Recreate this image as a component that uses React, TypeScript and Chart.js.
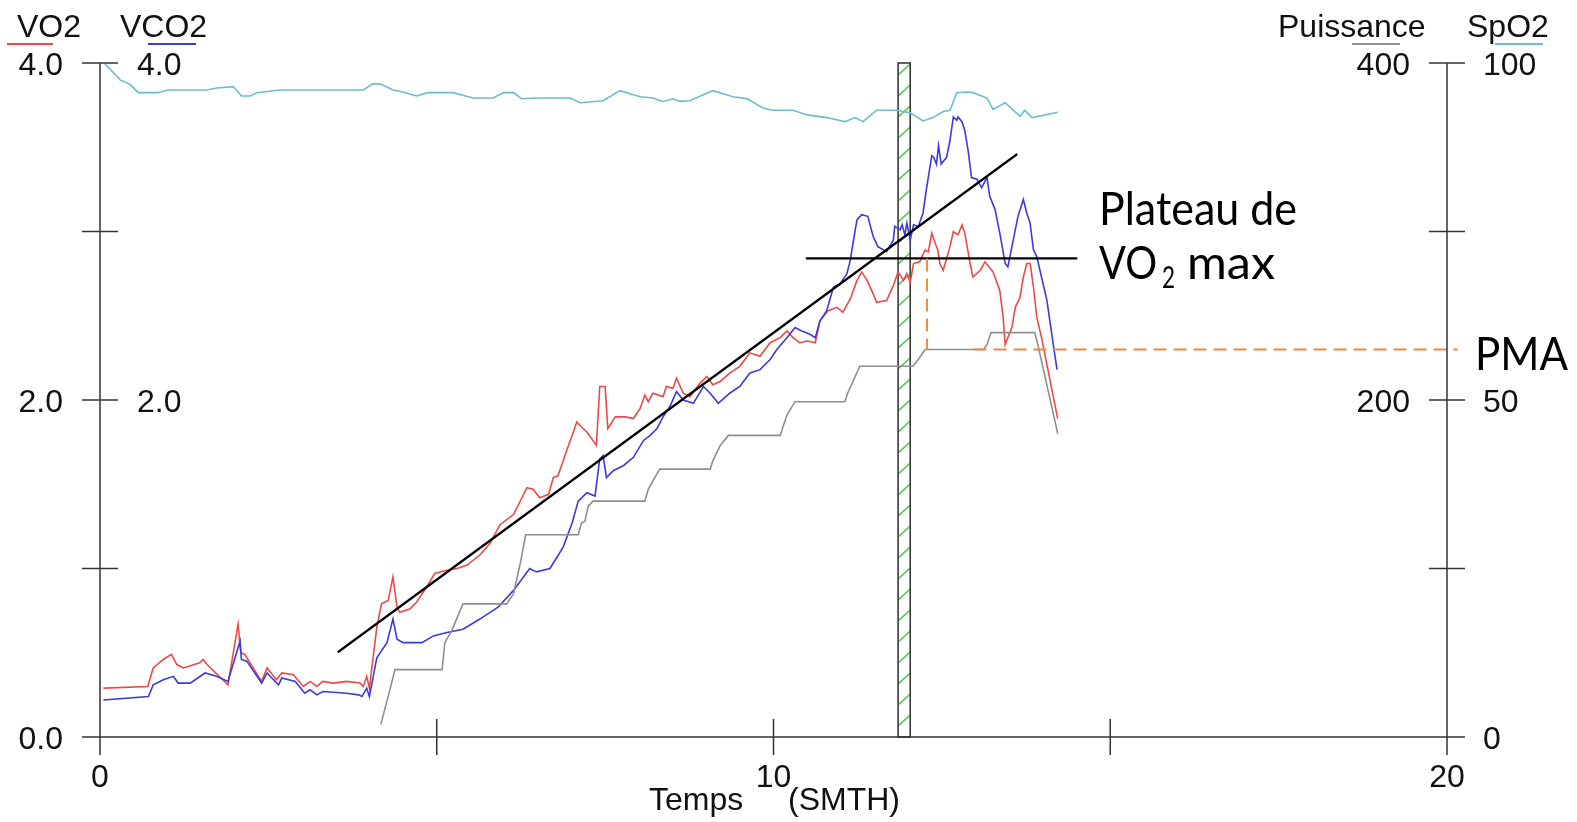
import React, { useEffect, useRef } from "react";
import { Chart, registerables } from "chart.js";

Chart.register(...registerables);

// ---- data (time in minutes) ----
const vo2: [number, number][] = [
  [0.05,0.29],[0.71,0.30],[0.79,0.41],[0.94,0.46],[1.06,0.49],[1.14,0.43],[1.24,0.41],[1.48,0.44],[1.53,0.46],[1.59,0.43],
  [1.90,0.31],[2.05,0.67],[2.09,0.50],[2.15,0.49],[2.40,0.33],[2.48,0.41],[2.62,0.34],[2.70,0.38],[2.87,0.37],[3.02,0.30],
  [3.12,0.33],[3.22,0.30],[3.31,0.33],[3.46,0.32],[3.66,0.33],[3.86,0.32],[3.91,0.30],[3.96,0.36],[4.00,0.29],[4.11,0.65],
  [4.18,0.79],[4.28,0.81],[4.35,0.95],[4.41,0.77],[4.45,0.74],[4.60,0.76],[4.70,0.80],[4.85,0.89],[4.97,0.97],[5.15,0.99],
  [5.30,1.00],[5.45,1.02],[5.64,1.08],[5.79,1.15],[5.94,1.26],[6.14,1.32],[6.34,1.48],[6.43,1.47],[6.53,1.42],[6.66,1.44],
  [6.73,1.54],[6.80,1.55],[6.93,1.70],[7.08,1.87],[7.15,1.84],[7.23,1.81],[7.37,1.73],[7.42,2.08],[7.50,2.08],[7.54,1.83],
  [7.65,1.90],[7.80,1.90],[7.92,1.89],[8.02,1.95],[8.09,2.03],[8.14,1.99],[8.21,2.04],[8.36,2.02],[8.41,2.08],[8.51,2.07],
  [8.56,2.13],[8.66,2.04],[8.76,2.02],[8.91,2.10],[9.01,2.14],[9.10,2.09],[9.21,2.11],[9.35,2.16],[9.50,2.20],[9.65,2.28],
  [9.80,2.26],[9.95,2.34],[10.10,2.37],[10.20,2.41],[10.29,2.37],[10.39,2.34],[10.50,2.35],[10.62,2.34],[10.69,2.47],[10.81,2.53],
  [10.94,2.55],[11.03,2.52],[11.14,2.60],[11.24,2.71],[11.31,2.76],[11.39,2.71],[11.48,2.63],[11.53,2.58],[11.68,2.59],[11.78,2.68],
  [11.85,2.76],[11.93,2.71],[11.98,2.75],[12.03,2.70],[12.08,2.81],[12.17,2.82],[12.25,2.89],[12.30,2.88],[12.35,2.99],[12.40,2.93],
  [12.44,2.89],[12.47,2.81],[12.52,2.77],[12.62,2.91],[12.67,3.00],[12.74,2.98],[12.80,3.04],[12.84,2.99],[12.92,2.81],[12.96,2.73],
  [13.07,2.77],[13.14,2.82],[13.20,2.79],[13.26,2.76],[13.36,2.65],[13.41,2.49],[13.44,2.33],[13.54,2.43],[13.59,2.55],[13.66,2.61],
  [13.71,2.73],[13.76,2.81],[13.81,2.81],[13.86,2.67],[13.91,2.49],[13.98,2.37],[14.22,1.89]
];

const vco2: [number, number][] = [
  [0.05,0.22],[0.72,0.24],[0.79,0.31],[0.94,0.34],[1.09,0.36],[1.16,0.32],[1.34,0.32],[1.56,0.38],[1.73,0.36],[1.90,0.33],
  [2.08,0.57],[2.10,0.46],[2.18,0.45],[2.40,0.32],[2.48,0.38],[2.65,0.31],[2.70,0.35],[2.90,0.33],[3.04,0.26],[3.12,0.28],
  [3.22,0.25],[3.31,0.27],[3.66,0.26],[3.84,0.25],[3.89,0.24],[3.96,0.29],[4.00,0.24],[4.11,0.47],[4.26,0.56],[4.35,0.70],
  [4.41,0.58],[4.50,0.56],[4.60,0.56],[4.78,0.56],[4.95,0.60],[5.15,0.62],[5.39,0.64],[5.64,0.70],[5.91,0.77],[6.14,0.87],
  [6.38,1.00],[6.48,0.98],[6.68,1.00],[6.79,1.07],[6.88,1.13],[7.01,1.27],[7.10,1.40],[7.23,1.45],[7.35,1.43],[7.42,1.65],
  [7.47,1.67],[7.52,1.54],[7.62,1.58],[7.77,1.61],[7.92,1.66],[8.07,1.76],[8.17,1.79],[8.27,1.83],[8.36,1.90],[8.46,1.96],
  [8.56,2.05],[8.66,2.00],[8.81,1.98],[8.96,2.08],[9.06,2.04],[9.18,1.98],[9.35,2.04],[9.50,2.08],[9.65,2.16],[9.80,2.18],
  [9.95,2.24],[10.05,2.30],[10.20,2.37],[10.32,2.43],[10.42,2.41],[10.54,2.39],[10.62,2.37],[10.69,2.47],[10.79,2.53],[10.89,2.67],
  [10.99,2.69],[11.09,2.75],[11.14,2.83],[11.18,2.93],[11.24,3.07],[11.31,3.10],[11.40,3.09],[11.48,2.97],[11.55,2.91],[11.68,2.88],
  [11.78,2.95],[11.80,3.03],[11.88,3.01],[11.91,3.04],[11.95,2.98],[11.98,3.05],[12.03,2.95],[12.08,3.04],[12.15,3.03],[12.22,3.11],
  [12.27,3.25],[12.35,3.45],[12.38,3.44],[12.42,3.40],[12.45,3.51],[12.49,3.40],[12.57,3.44],[12.62,3.54],[12.67,3.68],[12.72,3.66],
  [12.74,3.68],[12.80,3.65],[12.84,3.60],[12.89,3.48],[12.94,3.32],[13.02,3.31],[13.09,3.26],[13.17,3.32],[13.21,3.21],[13.29,3.13],
  [13.36,2.99],[13.44,2.81],[13.48,2.79],[13.56,2.95],[13.63,3.09],[13.71,3.19],[13.76,3.11],[13.81,3.05],[13.86,2.89],[13.91,2.85],
  [14.06,2.59],[14.15,2.34],[14.21,2.18]
];

const puissance: [number, number][] = [
  [4.17,7.5],[4.33,32],[4.38,40],[5.08,40],[5.12,56],[5.22,63],[5.39,79],[6.04,79],[6.14,85],[6.24,103],
  [6.32,120],[7.10,120],[7.15,127],[7.20,128],[7.25,137],[7.32,140],[8.09,140],[8.14,147],[8.21,152],[8.31,159],
  [9.06,159],[9.10,164],[9.21,173],[9.33,179],[10.10,179],[10.14,184],[10.20,191],[10.32,199],[11.06,199],[11.10,204],
  [11.17,210],[11.28,220],[12.07,220],[12.15,224],[12.25,230],[13.12,230],[13.17,233],[13.23,240],[13.88,240],[13.93,232],
  [14.22,180]
];

const spo2: [number, number][] = [
  [0.07,99.9],[0.30,97.5],[0.45,96.8],[0.57,95.6],[0.86,95.6],[1.01,96.0],[1.59,96.0],[1.73,96.3],[1.98,96.5],[2.10,95.1],
  [2.23,95.1],[2.33,95.6],[2.67,96.0],[3.91,96.0],[4.05,96.9],[4.16,96.9],[4.35,96.0],[4.50,95.7],[4.70,95.1],[4.87,95.6],
  [5.24,95.6],[5.54,94.8],[5.84,94.8],[5.99,95.6],[6.14,95.6],[6.26,94.7],[6.49,94.8],[6.98,94.8],[7.13,94.1],[7.47,94.4],
  [7.72,95.9],[8.02,95.0],[8.21,94.8],[8.36,94.3],[8.51,94.7],[8.61,94.3],[8.76,94.4],[9.10,95.9],[9.40,95.0],[9.61,94.7],
  [9.85,93.3],[9.99,93.0],[10.29,93.0],[10.50,92.3],[10.79,91.9],[11.06,91.3],[11.21,91.9],[11.33,91.3],[11.53,93.0],[11.83,93.0],
  [12.03,92.6],[12.22,91.4],[12.37,91.9],[12.52,92.8],[12.62,93.0],[12.72,95.6],[12.87,95.7],[12.96,95.6],[13.17,94.8],[13.26,93.1],
  [13.44,94.1],[13.66,92.1],[13.73,93.0],[13.84,91.9],[14.22,92.7]
];

// ---- axes / ticks ----
const xTicks = [0, 5, 10, 15, 20];
const xTickLabels = ["0", "", "10", "", "20"];
const leftTicks = [0, 1, 2, 3, 4];
const vo2TickLabels: [number, string][] = [[0, "0.0"], [2, "2.0"], [4, "4.0"]];
const vco2TickLabels: [number, string][] = [[2, "2.0"], [4, "4.0"]];
const puissanceTickLabels: [number, string][] = [[200, "200"], [400, "400"]];
const spo2TickLabels: [number, string][] = [[0, "0"], [50, "50"], [100, "100"]];

// ---- annotations (data units) ----
const trendLine: [number, number][] = [[3.53, 0.503], [13.62, 3.46]];
const plateauLine: [number, number][] = [[10.48, 2.84], [14.51, 2.84]];
const markerBand: [number, number] = [11.85, 12.03];
const pmaVertical: [number, number][] = [[12.28, 2.84], [12.28, 2.3]];
const pmaHorizontal: [number, number][] = [[12.97, 230], [20.16, 230]];

const RED = "#ee4848";
const BLUE = "#3a3ade";
const GREY = "#8e8e8e";
const CYAN = "#6bbdcd";
const ORANGE = "#f08a3c";
const AXIS = "#333333";
const FONT = "32px 'Liberation Sans', Arial, sans-serif";
const ANNOT_FONT = "'Lato', 'Noto Sans', sans-serif";

function fitText(ctx: CanvasRenderingContext2D, text: string, x: number, y: number, width: number, font: string) {
  ctx.save();
  ctx.font = font;
  const w = ctx.measureText(text).width;
  ctx.translate(x, y);
  ctx.scale(width / w, 1);
  ctx.textAlign = "left";
  ctx.textBaseline = "alphabetic";
  ctx.fillText(text, 0, 0);
  ctx.restore();
}

const customPlugin = {
  id: "custom",
  beforeDatasetsDraw(chart: any) {
    const ctx: CanvasRenderingContext2D = chart.ctx;
    const x = chart.scales.x;
    const y = chart.scales.yVO2;
    const x0 = x.getPixelForValue(markerBand[0]);
    const x1 = x.getPixelForValue(markerBand[1]);
    const top = y.getPixelForValue(4);
    const bot = y.getPixelForValue(0);
    ctx.save();
    ctx.beginPath();
    ctx.rect(x0, top, x1 - x0, bot - top);
    ctx.clip();
    ctx.strokeStyle = "#4cc94c";
    ctx.lineWidth = 1.6;
    for (let yy = top + 12; yy < bot + 20; yy += 21) {
      ctx.beginPath();
      ctx.moveTo(x0, yy);
      ctx.lineTo(x1, yy - 11);
      ctx.stroke();
    }
    ctx.restore();
    ctx.save();
    ctx.strokeStyle = "#3a3a3a";
    ctx.lineWidth = 1.6;
    ctx.strokeRect(x0, top, x1 - x0, bot - top);
    ctx.restore();
  },
  afterDatasetsDraw(chart: any) {
    const ctx: CanvasRenderingContext2D = chart.ctx;
    const x = chart.scales.x;
    const yL = chart.scales.yVO2;
    const yP = chart.scales.yP;
    const yS = chart.scales.yS;
    const px = (v: number) => x.getPixelForValue(v);
    const py = (v: number) => yL.getPixelForValue(v);

    ctx.save();
    // black trend and plateau lines
    ctx.strokeStyle = "#000";
    ctx.lineWidth = 2.2;
    ctx.lineCap = "butt";
    for (const ln of [trendLine, plateauLine]) {
      ctx.beginPath();
      ctx.moveTo(px(ln[0][0]), py(ln[0][1]));
      ctx.lineTo(px(ln[1][0]), py(ln[1][1]));
      ctx.stroke();
    }
    // orange dashed PMA lines
    ctx.strokeStyle = ORANGE;
    ctx.lineWidth = 2;
    ctx.setLineDash([13, 7]);
    ctx.beginPath();
    ctx.moveTo(px(pmaVertical[0][0]), py(pmaVertical[0][1]));
    ctx.lineTo(px(pmaVertical[1][0]), py(pmaVertical[1][1]));
    ctx.stroke();
    ctx.beginPath();
    ctx.moveTo(px(pmaHorizontal[0][0]), yP.getPixelForValue(pmaHorizontal[0][1]));
    ctx.lineTo(px(pmaHorizontal[1][0]), yP.getPixelForValue(pmaHorizontal[1][1]));
    ctx.stroke();
    ctx.setLineDash([]);

    // axes
    const left = px(0);
    const right = px(20);
    const top = py(4);
    const bottom = py(0);
    const T = 18;
    ctx.strokeStyle = AXIS;
    ctx.lineWidth = 1.5;
    ctx.beginPath();
    ctx.moveTo(left, top);
    ctx.lineTo(left, bottom + T);
    ctx.moveTo(right, top);
    ctx.lineTo(right, bottom + T);
    ctx.moveTo(left - T, bottom);
    ctx.lineTo(right + T, bottom);
    for (const t of leftTicks) {
      const yy = py(t);
      ctx.moveTo(left - T, yy);
      ctx.lineTo(left + T, yy);
      ctx.moveTo(right - T, yy);
      ctx.lineTo(right + T, yy);
    }
    for (const t of xTicks) {
      const xx = px(t);
      ctx.moveTo(xx, bottom - T);
      ctx.lineTo(xx, bottom + T);
    }
    ctx.stroke();

    // tick labels
    ctx.fillStyle = "#111";
    ctx.font = FONT;
    ctx.textBaseline = "alphabetic";
    ctx.textAlign = "right";
    for (const [v, s] of vo2TickLabels) ctx.fillText(s, left - T - 19, py(v) + 11.5);
    ctx.textAlign = "left";
    for (const [v, s] of vco2TickLabels) ctx.fillText(s, left + T + 19, chart.scales.yVCO2.getPixelForValue(v) + 11.5);
    ctx.textAlign = "right";
    for (const [v, s] of puissanceTickLabels) ctx.fillText(s, right - T - 19, yP.getPixelForValue(v) + 11.5);
    ctx.textAlign = "left";
    for (const [v, s] of spo2TickLabels) ctx.fillText(s, right + T + 18, yS.getPixelForValue(v) + 11.5);
    ctx.textAlign = "center";
    xTicks.forEach((t, i) => {
      if (xTickLabels[i]) ctx.fillText(xTickLabels[i], px(t), bottom + 49.5);
    });

    // axis titles
    ctx.textAlign = "left";
    ctx.fillText("Temps", 649, 810);
    ctx.fillText("(SMTH)", 788, 810);
    ctx.fillText("VO2", 17, 37);
    ctx.fillText("VCO2", 120, 37);
    ctx.fillText("Puissance", 1278, 37);
    ctx.fillText("SpO2", 1467, 37);
    const underline = (x0: number, x1: number, c: string) => {
      ctx.strokeStyle = c;
      ctx.lineWidth = 2;
      ctx.beginPath();
      ctx.moveTo(x0, 44);
      ctx.lineTo(x1, 44);
      ctx.stroke();
    };
    underline(7, 53, RED);
    underline(148, 196, BLUE);
    underline(1352, 1400, GREY);
    underline(1495, 1543, CYAN);

    // annotation texts
    ctx.fillStyle = "#000";
    fitText(ctx, "Plateau de", 1099, 225, 198, `47px ${ANNOT_FONT}`);
    fitText(ctx, "VO", 1099, 279, 58, `47px ${ANNOT_FONT}`);
    fitText(ctx, "2", 1162, 288, 13, `30px ${ANNOT_FONT}`);
    fitText(ctx, "max", 1187, 279, 88, `47px ${ANNOT_FONT}`);
    fitText(ctx, "PMA", 1475, 370, 93, `47px ${ANNOT_FONT}`);
    ctx.restore();
  },
};

export default function App() {
  const canvasRef = useRef<HTMLCanvasElement | null>(null);

  useEffect(() => {
    const canvas = canvasRef.current;
    if (!canvas) return;
    const toPts = (arr: [number, number][]) => arr.map(([x, y]) => ({ x, y }));
    const ds = (label: string, data: [number, number][], color: string, axis: string) => ({
      label,
      data: toPts(data),
      borderColor: color,
      backgroundColor: color,
      borderWidth: 1.6,
      pointRadius: 0,
      tension: 0,
      fill: false,
      xAxisID: "x",
      yAxisID: axis,
    });
    const chart = new Chart(canvas, {
      type: "line",
      data: {
        datasets: [
          ds("SpO2", spo2, CYAN, "yS"),
          ds("Puissance", puissance, GREY, "yP"),
          ds("VCO2", vco2, BLUE, "yVCO2"),
          ds("VO2", vo2, RED, "yVO2"),
        ],
      },
      options: {
        animation: false,
        responsive: false,
        devicePixelRatio: 1,
        layout: { padding: { left: 100, right: 130, top: 63, bottom: 85 } },
        plugins: { legend: { display: false }, tooltip: { enabled: false } },
        scales: {
          x: { type: "linear", min: 0, max: 20, display: false },
          yVO2: { type: "linear", min: 0, max: 4, display: false },
          yVCO2: { type: "linear", min: 0, max: 4, display: false },
          yP: { type: "linear", min: 0, max: 400, display: false },
          yS: { type: "linear", min: 0, max: 100, display: false },
        },
      },
      plugins: [customPlugin],
    } as any);
    return () => chart.destroy();
  }, []);

  return (
    <div style={{ position: "fixed", left: 0, top: 0, width: 1577, height: 822, background: "#fff" }}>
      <canvas ref={canvasRef} width={1577} height={822} style={{ display: "block", width: 1577, height: 822 }} />
    </div>
  );
}
